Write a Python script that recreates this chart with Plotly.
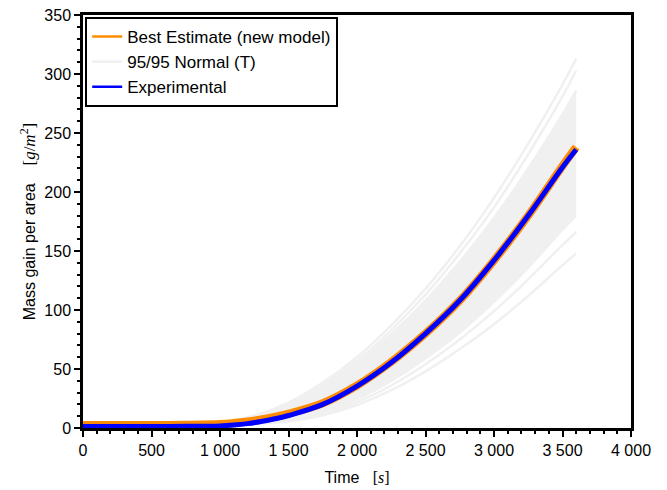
import plotly.graph_objects as go

# ---- data ----
t_best = [0, 250, 500, 750, 1000, 1100, 1200, 1300, 1400, 1500, 1750, 2000,
          2250, 2500, 2750, 3000, 3250, 3500, 3600]
best_estimate = [2.6, 2.6, 2.6, 2.7, 3.3, 4.2, 5.5, 7.3, 9.5, 12.2, 21, 36,
                 56, 80, 108, 142, 180, 222, 238]
experimental = [1.3, 1.3, 1.3, 1.4, 1.8, 2.5, 3.7, 5.5, 7.8, 10.6, 20, 35.5,
                55.5, 80, 108, 142, 180, 221, 236]

t_gray = [0, 500, 750, 1000, 1250, 1500, 1750, 2000, 2250, 2500, 2750, 3000,
          3250, 3500, 3600]
gray_top1 = [2.6, 2.6, 2.8, 5.0, 10.5, 21.5, 38.5, 60, 87, 118, 154, 195, 241, 291, 313]
gray_top2 = [2.6, 2.6, 2.8, 4.8, 10, 20.5, 36.5, 57, 83, 113, 148, 187, 232, 281, 303]
band_top = [2.6, 2.6, 2.8, 4.6, 9.5, 19.5, 35, 55, 79.5, 108, 141, 178, 220, 266, 286]
band_bottom = [2.6, 2.6, 2.6, 2.8, 4.0, 7.2, 13.5, 24.5, 40, 59, 81, 107, 136, 168, 180]
gray_low1 = [2.6, 2.6, 2.6, 2.8, 3.8, 6.5, 12.2, 22, 36, 54, 75, 99, 126, 155, 166]
gray_low2 = [2.6, 2.6, 2.6, 2.7, 3.5, 5.7, 10.8, 19.5, 32, 48, 67, 88, 112, 138, 148]

x_ticks = [0, 500, 1000, 1500, 2000, 2500, 3000, 3500, 4000]
y_ticks = [0, 50, 100, 150, 200, 250, 300, 350]

GRAY = "rgb(240,240,240)"
ORANGE = "rgb(255,140,0)"
BLUE = "rgb(0,0,255)"

fig = go.Figure()

# gray sample band
fig.add_trace(go.Scatter(x=t_gray, y=band_bottom, mode="lines",
                         line=dict(color=GRAY, width=2.5, shape="spline"),
                         showlegend=False, hoverinfo="skip"))
fig.add_trace(go.Scatter(x=t_gray, y=band_top, mode="lines", fill="tonexty",
                         fillcolor=GRAY, line=dict(color=GRAY, width=2.5, shape="spline"),
                         showlegend=False, hoverinfo="skip"))
for g in (gray_top1, gray_top2, gray_low1, gray_low2):
    fig.add_trace(go.Scatter(x=t_gray, y=g, mode="lines",
                             line=dict(color=GRAY, width=2.5, shape="spline"),
                             showlegend=False))

fig.add_trace(go.Scatter(x=t_best, y=best_estimate, mode="lines",
                         line=dict(color=ORANGE, width=8, shape="spline"),
                         showlegend=False))
fig.add_trace(go.Scatter(x=t_best, y=experimental, mode="lines",
                         line=dict(color=BLUE, width=5, shape="spline"),
                         showlegend=False))

# legend entries
fig.add_trace(go.Scatter(x=[None], y=[None], mode="lines", name="Best Estimate (new model)",
                         line=dict(color=ORANGE, width=2.5)))
fig.add_trace(go.Scatter(x=[None], y=[None], mode="lines", name="95/95 Normal (T)",
                         line=dict(color=GRAY, width=2.5)))
fig.add_trace(go.Scatter(x=[None], y=[None], mode="lines", name="Experimental",
                         line=dict(color=BLUE, width=2.5)))

axis_common = dict(
    showgrid=False, zeroline=False, showline=True, linecolor="black",
    linewidth=2.5, mirror=True, ticks="outside", ticklen=6, tickwidth=2,
    tickcolor="black", automargin=False,
    tickfont=dict(family="Liberation Sans", size=16, color="black"),
)

fig.update_xaxes(
    range=[0, 4000], tickvals=x_ticks, tickformat=",d",
    minor=dict(dtick=100, ticks="outside", ticklen=3, tickwidth=1.5, tickcolor="black"),
    title=dict(text="Time&nbsp;&nbsp;&nbsp;<span style='font-family:Liberation Serif'>[<i>s</i>]</span>",
               font=dict(family="Liberation Sans", size=16, color="black"), standoff=14),
    **axis_common,
)
fig.update_yaxes(
    range=[0, 350], tickvals=y_ticks,
    minor=dict(dtick=10, ticks="outside", ticklen=3, tickwidth=1.5, tickcolor="black"),
    title=dict(text="Mass gain per area&nbsp;&nbsp;&nbsp;&nbsp;<span style='font-family:Liberation Serif;font-size:17px'>[<i>g</i>/<i>m</i><sup>2</sup>]</span>",
               font=dict(family="Liberation Sans", size=16, color="black"), standoff=5),
    **axis_common,
)

fig.update_layout(
    width=667, height=490,
    margin=dict(l=83, r=36, t=15, b=62),
    plot_bgcolor="white", paper_bgcolor="white",
    separators=". ",
    legend=dict(x=0.004, y=0.995, xanchor="left", yanchor="top",
                traceorder="normal",
                bordercolor="black", borderwidth=2, bgcolor="white",
                font=dict(family="Liberation Sans", size=17, color="black"),
                tracegroupgap=0, itemwidth=30),
)

fig.write_html("out.html")
